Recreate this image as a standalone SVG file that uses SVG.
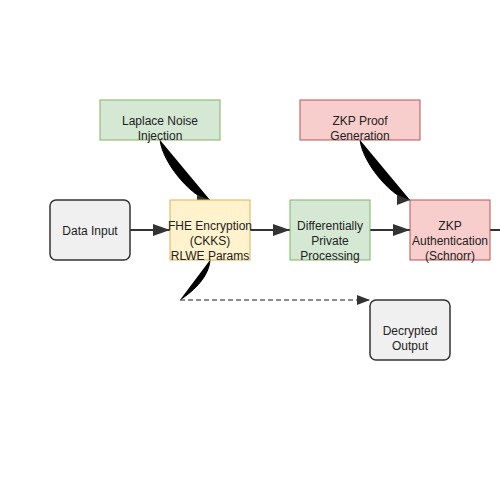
<svg xmlns="http://www.w3.org/2000/svg" width="500" height="500" viewBox="0 0 500 500">
<defs>
<style>
.lbl{font-family:"Liberation Sans",Arial,sans-serif;font-size:12px;fill:#222;text-anchor:middle}
.gray{fill:#f0f0f0;stroke:#333;stroke-width:1.5}
.yellow{fill:#fff2cc;stroke:#d6b656;stroke-width:1}
.green{fill:#d5e8d4;stroke:#82b366;stroke-width:1}
.red{fill:#f8cecc;stroke:#b85450;stroke-width:1}
.edge{stroke:#333;stroke-width:2;fill:none}
.blob{stroke:#000;stroke-width:1;fill:#000}
.dash{stroke:#666;stroke-width:1.5;fill:none;stroke-dasharray:5,3}
</style>
<marker id="arr" markerUnits="userSpaceOnUse" markerWidth="18" markerHeight="14" refX="17" refY="6" orient="auto"><path d="M0,0 L17,6 L0,12 z" fill="#333"/></marker>
<marker id="arrS" markerUnits="userSpaceOnUse" markerWidth="14" markerHeight="12" refX="13" refY="5" orient="auto"><path d="M0,0 L13,5 L0,10 z" fill="#333"/></marker>
</defs>
<rect width="500" height="500" fill="#fff"/>
<g id="connectors">
<path class="edge" d="M130,230 L170,230" marker-end="url(#arr)"/>
<path class="edge" d="M250,230 L290,230" marker-end="url(#arr)"/>
<path class="edge" d="M370,230 L410,230" marker-end="url(#arr)"/>
<path class="edge" d="M490,230 L502,230"/>
<path class="blob" d="M160,140 C163,165 195,200 210,200" marker-end="url(#arrS)"/>
<path class="blob" d="M360,140 C363,165 395,200 410,200" marker-end="url(#arrS)"/>
<path class="blob" d="M210,260 C209,276 195,290 180,300"/>
<path class="dash" d="M180,300 L370,300" marker-end="url(#arrS)"/>
</g>
<g id="data-input"><rect class="gray" x="50" y="200" width="80" height="60" rx="6"/><text class="lbl" x="90" y="235">Data Input</text></g>
<g id="fhe"><rect class="yellow" x="170" y="200" width="80" height="60"/><text class="lbl" x="210" y="230">FHE Encryption</text><text class="lbl" x="210" y="245">(CKKS)</text><text class="lbl" x="210" y="260">RLWE Params</text></g>
<g id="dp"><rect class="green" x="290" y="200" width="80" height="60"/><text class="lbl" x="330" y="230">Differentially</text><text class="lbl" x="330" y="245">Private</text><text class="lbl" x="330" y="260">Processing</text></g>
<g id="zkp-auth"><rect class="red" x="410" y="200" width="80" height="60"/><text class="lbl" x="450" y="230">ZKP</text><text class="lbl" x="450" y="245">Authentication</text><text class="lbl" x="450" y="260">(Schnorr)</text></g>
<g id="laplace"><rect class="green" x="100" y="100" width="120" height="40"/><text class="lbl" x="160" y="125">Laplace Noise</text><text class="lbl" x="160" y="140">Injection</text></g>
<g id="zkp-proof"><rect class="red" x="300" y="100" width="120" height="40"/><text class="lbl" x="360" y="125">ZKP Proof</text><text class="lbl" x="360" y="140">Generation</text></g>
<g id="decrypted"><rect class="gray" x="370" y="300" width="80" height="60" rx="6"/><text class="lbl" x="410" y="335">Decrypted</text><text class="lbl" x="410" y="350">Output</text></g>
</svg>
